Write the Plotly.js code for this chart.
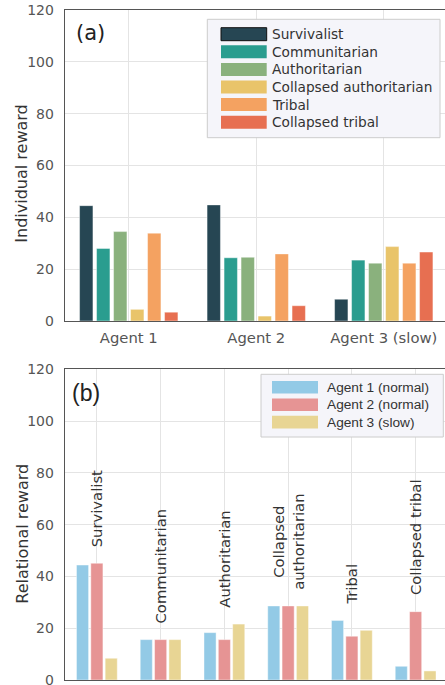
<!DOCTYPE html>
<html><head><meta charset="utf-8">
<script src="https://cdn.plot.ly/plotly-3.0.1.min.js"></script>
<style>html,body{margin:0;padding:0;overflow:hidden;background:#fff}</style>
</head><body><div id="chart"></div>
<script>
// ---- data ----
const agents = ["Agent 1", "Agent 2", "Agent 3 (slow)"];
const strategies = ["Survivalist", "Communitarian", "Authoritarian", "Collapsed authoritarian", "Tribal", "Collapsed tribal"];
const strategyLabels = ["Survivalist", "Communitarian", "Authoritarian", "Collapsed<br>authoritarian", "Tribal", "Collapsed tribal"];
// panel (a): individual reward per strategy, one value per agent
const survivalist = [44.5, 44.8, 8.4];
const communitarian = [28.0, 24.4, 23.5];
const authoritarian = [34.5, 24.6, 22.3];
const collapsedAuthoritarian = [4.5, 1.9, 28.7];
const tribal = [33.9, 25.9, 22.3];
const collapsedTribal = [3.4, 5.9, 26.6];
// panel (b): relational reward per agent, one value per strategy
const agentNames = ["Agent 1 (normal)", "Agent 2 (normal)", "Agent 3 (slow)"];
const relAgent1 = [44.4, 15.6, 18.3, 28.6, 23.0, 5.3];
const relAgent2 = [45.1, 15.6, 15.6, 28.6, 16.9, 26.4];
const relAgent3 = [8.4, 15.6, 21.6, 28.6, 19.2, 3.5];
const stratColors = ["#264653", "#2a9d8f", "#8ab17d", "#e9c46a", "#f4a261", "#e76f51"];
const agentColors = ["#93cae6", "#e69494", "#e8d594"];

// ---- layout helpers ----
const W = 448, H = 685;
const px = v => v / W;
const py = v => 1 - v / H;
const DV = "DejaVu Sans", LS = "Liberation Sans, Arial, sans-serif";

const seriesA = [survivalist, communitarian, authoritarian, collapsedAuthoritarian, tribal, collapsedTribal];
const seriesB = [relAgent1, relAgent2, relAgent3];

const traces = [];
const pitchA = 0.1333, widthA = 0.105;
seriesA.forEach((vals, i) => {
  traces.push({
    type: "bar", x: agents, y: vals, name: strategies[i], xaxis: "x", yaxis: "y",
    width: widthA, offset: -3 * pitchA + i * pitchA + (pitchA - widthA) / 2,
    marker: {color: stratColors[i], line: {color: "rgba(255,255,255,0.55)", width: 0.8}},
    showlegend: false
  });
});
const pitchB = 0.225, widthB = 0.19;
seriesB.forEach((vals, j) => {
  traces.push({
    type: "bar", x: strategies, y: vals, name: agentNames[j], xaxis: "x2", yaxis: "y2",
    width: widthB, offset: -1.5 * pitchB + j * pitchB + (pitchB - widthB) / 2,
    marker: {color: agentColors[j], line: {color: "rgba(255,255,255,0.55)", width: 0.8}},
    showlegend: false
  });
});

const axisCommon = {
  showgrid: true, gridcolor: "#e4e4e4", gridwidth: 1,
  showline: true, linecolor: "#555555", linewidth: 1.3, mirror: true,
  ticks: "", zeroline: false, fixedrange: true, ticklabeloverflow: "allow"
};
const xdom = [px(65), px(447.5)];

const shapes = [];
const annotations = [];

// y-axis titles
annotations.push({text: "Individual reward", xref: "paper", yref: "paper", x: px(21.7), y: py(174),
  textangle: -90, showarrow: false, xanchor: "center", yanchor: "middle", font: {family: DV, size: 16, color: "#333"}});
annotations.push({text: "Relational reward", xref: "paper", yref: "paper", x: px(21.7), y: py(534),
  textangle: -90, showarrow: false, xanchor: "center", yanchor: "middle", font: {family: DV, size: 16, color: "#333"}});
// panel labels
annotations.push({text: "(a)", xref: "paper", yref: "paper", x: px(74), y: py(33), showarrow: false,
  xanchor: "left", yanchor: "middle", font: {family: DV, size: 21, color: "#222"}});
annotations.push({text: "(b)", xref: "paper", yref: "paper", x: px(70), y: py(393), showarrow: false,
  xanchor: "left", yanchor: "middle", font: {family: LS, size: 23, color: "#222"}});

// legend (a)
shapes.push({type: "rect", xref: "paper", yref: "paper", x0: px(207.3), x1: px(440), y0: py(137.7), y1: py(19.3),
  fillcolor: "#f5f5fa", line: {color: "#cccccc", width: 1}, layer: "above"});
strategies.forEach((s, i) => {
  const cy = 34.2 + i * 17.6;
  shapes.push({type: "rect", xref: "paper", yref: "paper", x0: px(221), x1: px(266.7), y0: py(cy + 6.5), y1: py(cy - 6.5),
    fillcolor: stratColors[i], line: {color: i === 0 ? "#111" : stratColors[i], width: i === 0 ? 1 : 0}, layer: "above"});
  annotations.push({text: s, xref: "paper", yref: "paper", x: px(269.5), y: py(cy), showarrow: false,
    xanchor: "left", yanchor: "middle", font: {family: DV, size: 13.7, color: "#333"}});
});
// legend (b)
shapes.push({type: "rect", xref: "paper", yref: "paper", x0: px(261), x1: px(443.3), y0: py(437), y1: py(374.3),
  fillcolor: "#f5f5fa", line: {color: "#cccccc", width: 1}, layer: "above"});
agentNames.forEach((s, j) => {
  const cy = 387.3 + j * 17.4;
  shapes.push({type: "rect", xref: "paper", yref: "paper", x0: px(272), x1: px(318), y0: py(cy + 6.3), y1: py(cy - 6.3),
    fillcolor: agentColors[j], line: {width: 0}, layer: "above"});
  annotations.push({text: s, xref: "paper", yref: "paper", x: px(324.5), y: py(cy), showarrow: false,
    xanchor: "left", yanchor: "middle", font: {family: LS, size: 13.7, color: "#333"}});
});
// category labels in panel (b), placed just above each group's tallest bar
strategies.forEach((s, k) => {
  const top = Math.max(relAgent1[k], relAgent2[k], relAgent3[k]);
  annotations.push({text: strategyLabels[k], xref: "x2", yref: "y2", x: s, y: top + 5.5,
    textangle: -90, showarrow: false, xanchor: "center", yanchor: "bottom",
    font: {family: DV, size: 14.8, color: "#333"}});
});

const layout = {
  width: W, height: H, margin: {l: 0, r: 0, t: 0, b: 0},
  paper_bgcolor: "#fff", plot_bgcolor: "#fff", barmode: "overlay",
  xaxis: Object.assign({}, axisCommon, {domain: xdom, anchor: "y", type: "category", range: [-0.5, 2.5],
    tickfont: {family: DV, size: 14.8, color: "#555"}, ticklabelstandoff: 3}),
  yaxis: Object.assign({}, axisCommon, {domain: [py(321), py(10)], anchor: "x", range: [0, 120], dtick: 20,
    tickfont: {family: DV, size: 14, color: "#555"}, ticklabelstandoff: 7}),
  xaxis2: Object.assign({}, axisCommon, {domain: xdom, anchor: "y2", type: "category", range: [-0.5, 5.5],
    showticklabels: false}),
  yaxis2: Object.assign({}, axisCommon, {domain: [py(680), py(369.3)], anchor: "x2", range: [0, 120], dtick: 20,
    tickfont: {family: DV, size: 14, color: "#555"}, ticklabelstandoff: 7}),
  shapes: shapes, annotations: annotations, showlegend: false
};

Plotly.newPlot("chart", traces, layout, {displayModeBar: false, staticPlot: true});
</script>
</body></html>
